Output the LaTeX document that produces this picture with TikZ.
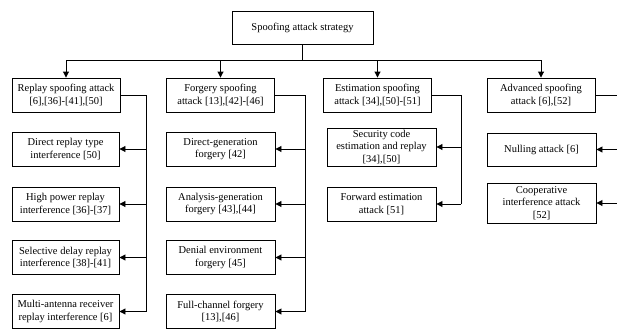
\documentclass[tikz,border=0pt]{standalone}
\usepackage{fontspec}
\setmainfont{Liberation Serif}
\usetikzlibrary{arrows.meta,calc}
\begin{document}
\begin{tikzpicture}[x=1pt,y=-1pt,
  box/.style={draw, line width=0.9pt, align=center, inner sep=0pt,
              font=\fontsize{10.5}{12.5}\selectfont},
  lvl/.style={box, minimum width=108pt, minimum height=34pt},
  leaf/.style={box, minimum width=107pt, minimum height=34pt},
  link/.style={line width=0.9pt},
  arr/.style={link, -{Triangle[length=6pt,width=6pt]}}]
\useasboundingbox (0,0) rectangle (617,329);

% root
\node[box, minimum width=141pt, minimum height=33pt] (root) at (302.5,27.5) {Spoofing attack strategy};

% first level
\node[lvl] (rep)  at (66,95)    {Replay spoofing attack\\{}[6],[36]-[41],[50]};
\node[lvl] (forg) at (220.5,95) {Forgery spoofing\\attack [13],[42]-[46]};
\node[lvl] (est)  at (377.5,95) {Estimation spoofing\\attack [34],[50]-[51]};
\node[lvl] (adv)  at (541,95)   {Advanced spoofing\\attack [6],[52]};

% replay branch
\node[leaf] (r1) at (65.5,149)   {Direct replay type\\interference [50]};
\node[leaf] (r2) at (65.5,204)   {High power replay\\interference [36]-[37]};
\node[leaf] (r3) at (65.5,257.5) {Selective delay replay\\interference [38]-[41]};
\node[leaf] (r4) at (65.5,311.5) {Multi-antenna receiver\\replay interference [6]};

% forgery branch
\node[leaf, minimum width=109pt] (f1) at (220.5,149)   {Direct-generation\\forgery [42]};
\node[leaf, minimum width=109pt] (f2) at (220.5,204)   {Analysis-generation\\forgery [43],[44]};
\node[leaf, minimum width=109pt] (f3) at (220.5,257.5) {Denial environment\\forgery [45]};
\node[leaf, minimum width=109pt] (f4) at (220.5,311.5) {Full-channel forgery\\{}[13],[46]};

% estimation branch
\node[leaf, minimum width=109pt, minimum height=38pt] (e1) at (381.5,147) {Security code\\estimation and replay\\{}[34],[50]};
\node[leaf, minimum width=109pt] (e2) at (381.5,204) {Forward estimation\\attack [51]};

% advanced branch
\node[leaf, minimum width=109pt, minimum height=33pt] (a1) at (541.5,149.5) {Nulling attack [6]};
\node[leaf, minimum width=109pt, minimum height=40pt] (a2) at (541.5,203)   {Cooperative\\interference attack\\{}[52]};

% bus from the root to the four strategies
\coordinate (bus) at (0,60);
\draw[link] (root.south) -- (root.south |- bus);
\draw[link] (rep.north |- bus) -- (adv.north |- bus);
\foreach \n in {rep,forg,est,adv}
  \draw[arr] (\n.north |- bus) -- (\n.north);

% spines
\coordinate (rs) at (146,0);
\coordinate (fs) at (305,0);
\coordinate (es) at (461,0);
\coordinate (as) at (630,0);

\draw[link] (rep.east) -| (rs |- r4.east);
\foreach \n in {r1,r2,r3,r4}
  \draw[arr] (rs |- \n.east) -- (\n.east);

\draw[link] (forg.east) -| (fs |- f4.east);
\foreach \n in {f1,f2,f3,f4}
  \draw[arr] (fs |- \n.east) -- (\n.east);

\draw[link] (est.east) -| (es |- e2.east);
\foreach \n in {e1,e2}
  \draw[arr] (es |- \n.east) -- (\n.east);

\draw[link] (adv.east) -- (as |- adv.east);
\foreach \n in {a1,a2}
  \draw[arr] (as |- \n.east) -- (\n.east);
\end{tikzpicture}
\end{document}
